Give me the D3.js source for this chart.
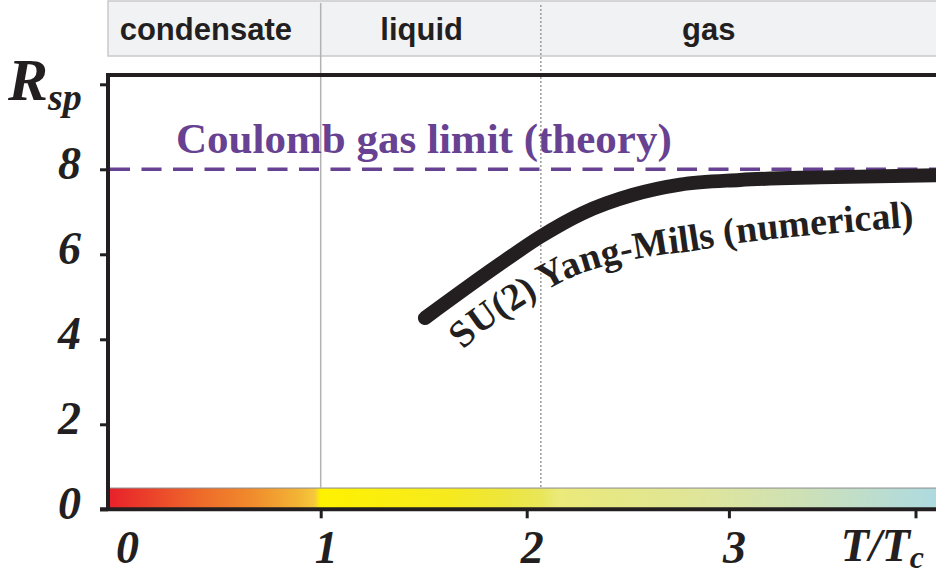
<!DOCTYPE html>
<html>
<head>
<meta charset="utf-8">
<script src="https://cdn.jsdelivr.net/npm/d3@7"></script>
<style>
html, body { margin: 0; padding: 0; background: #fff; overflow: hidden; }
svg { display: block; }
</style>
</head>
<body>
<svg id="rsp_graph"></svg>
<script>
// --- data ---
const phases = ["condensate", "liquid", "gas"];
const phaseLabelT = [0.46, 1.49, 2.9];
const phaseBounds = [1, 2.07];
const yTicks = [0, 2, 4, 6, 8, 10];
const yTickLabels = ["0", "2", "4", "6", "8", ""];
const xTicks = [0, 1, 2, 3, 4];
const xTickLabels = ["0", "1", "2", "3", ""];
const coulombLimit = 8;
const curveT = [1.506, 1.87, 2.066, 2.278, 2.526, 2.758, 3.059, 3.488, 4.11];
const curveR = [4.50, 5.77, 6.41, 6.97, 7.40, 7.64, 7.75, 7.81, 7.86];
const labelPathT = [1.66, 1.74, 1.99, 2.249, 2.57, 2.82, 3.065, 3.40, 4.05];
const labelPathR = [3.55, 3.98, 4.83, 5.51, 5.91, 6.08, 6.27, 6.43, 6.67];
const barStopT = [0, 0.43, 0.67, 0.9, 0.97, 1.0, 1.63, 1.87, 2.07, 2.16, 2.36, 2.86, 3.35, 3.9, 4.2];
const barStopColor = ["#e8202a", "#ee6a2a", "#f08a2c", "#f3b535", "#f5c83c", "#fff200", "#f6ea1f",
                      "#eee63a", "#e9e65a", "#ebea7a", "#e7e882", "#dfe59a", "#cfe1b4", "#b7dcd5", "#aad9e4"];

const svg_size = {width: 936, height: 577};
const ink = "#231f20";
const purple = "#674192";
const serifBI = "'Liberation Serif', 'Times New Roman', serif";

const svg = d3.select("#rsp_graph")
    .attr("width", svg_size.width)
    .attr("height", svg_size.height);

// hand-drawn axis in the original: unit steps are slightly uneven
const x = d3.scaleLinear().domain(xTicks).range([108, 320.7, 526.7, 728.9, 915.5]);
const y = d3.scaleLinear().domain([0, 10]).range([509.3, 84.3]);
const xRight = svg_size.width;
const yTop = 75;

// phase header band
svg.append("rect")
    .attr("x", x(0)).attr("y", 1)
    .attr("width", xRight - x(0) + 10).attr("height", 55)
    .attr("fill", "#f1f2f4")
    .attr("stroke", "#c9c9cb")
    .attr("stroke-width", 1.5);

svg.selectAll(".phase")
    .data(phases)
    .enter()
    .append("text")
    .attr("x", (d, i) => x(phaseLabelT[i]))
    .attr("y", 40)
    .attr("text-anchor", "middle")
    .attr("font-family", "'Liberation Sans', Arial, sans-serif")
    .attr("font-weight", "bold")
    .attr("font-size", 31)
    .attr("fill", ink)
    .text(d => d);

// colour bar along the bottom
const grad = svg.append("defs").append("linearGradient")
    .attr("id", "phaseGrad")
    .attr("gradientUnits", "userSpaceOnUse")
    .attr("x1", x(0)).attr("x2", x(4.2)).attr("y1", 0).attr("y2", 0);
grad.selectAll("stop")
    .data(barStopT)
    .enter()
    .append("stop")
    .attr("offset", d => (x(d) - x(0)) / (x(4.2) - x(0)))
    .attr("stop-color", (d, i) => barStopColor[i]);

svg.append("rect")
    .attr("x", x(0))
    .attr("y", y(0.5))
    .attr("width", xRight - x(0))
    .attr("height", y(0) - y(0.5))
    .attr("fill", "url(#phaseGrad)");
svg.append("line")
    .attr("x1", x(0)).attr("x2", xRight)
    .attr("y1", y(0.5)).attr("y2", y(0.5))
    .attr("stroke", "#8a8a8a")
    .attr("stroke-width", 1);

// phase boundaries
svg.append("line")
    .attr("x1", x(phaseBounds[0])).attr("x2", x(phaseBounds[0]))
    .attr("y1", 3).attr("y2", y(0.5))
    .attr("stroke", "#b3b3b3")
    .attr("stroke-width", 1.5);
svg.append("line")
    .attr("x1", x(phaseBounds[1])).attr("x2", x(phaseBounds[1]))
    .attr("y1", 5).attr("y2", y(0.5))
    .attr("stroke", "#9c9c9c")
    .attr("stroke-width", 1.5)
    .attr("stroke-dasharray", "2,2");

// Coulomb gas limit
svg.append("line")
    .attr("x1", x(0) + 2).attr("x2", xRight)
    .attr("y1", y(coulombLimit)).attr("y2", y(coulombLimit))
    .attr("stroke", purple)
    .attr("stroke-width", 3.5)
    .attr("stroke-dasharray", "20,11.5");
svg.append("text")
    .attr("x", x(0.32))
    .attr("y", y(coulombLimit) - 16)
    .attr("font-family", serifBI)
    .attr("font-weight", "bold")
    .attr("font-size", 43)
    .attr("fill", purple)
    .text("Coulomb gas limit (theory)");

// numerical curve
const curveData = curveT.map((t, i) => ({t: t, r: curveR[i]}));
const line = d3.line()
    .x(d => x(d.t))
    .y(d => y(d.r))
    .curve(d3.curveMonotoneX);
svg.append("path")
    .datum(curveData)
    .attr("d", line)
    .attr("fill", "none")
    .attr("stroke", ink)
    .attr("stroke-width", 14)
    .attr("stroke-linecap", "round");

const labelData = labelPathT.map((t, i) => ({t: t, r: labelPathR[i]}));
svg.select("defs").append("path")
    .attr("id", "labelPath")
    .attr("d", d3.line().x(d => x(d.t)).y(d => y(d.r)).curve(d3.curveCatmullRom)(labelData));
svg.append("text")
    .attr("font-family", serifBI)
    .attr("font-weight", "bold")
    .attr("font-size", 38)
    .attr("fill", ink)
    .append("textPath")
    .attr("href", "#labelPath")
    .attr("startOffset", "50%")
    .attr("text-anchor", "middle")
    .text("SU(2) Yang-Mills (numerical)");

// axes
const yAxis = d3.axisLeft(y).tickValues(yTicks).tickSize(8).tickPadding(19)
    .tickFormat((d, i) => yTickLabels[i]);
const xAxis = d3.axisBottom(x).tickValues(xTicks).tickSize(9).tickPadding(12)
    .tickFormat((d, i) => xTickLabels[i]);

const gy = svg.append("g").attr("transform", `translate(${x(0)},0)`).call(yAxis);
const gx = svg.append("g").attr("transform", `translate(0,${y(0)})`).call(xAxis);
[gx, gy].forEach(g => {
    g.select(".domain").remove();
    g.selectAll(".tick line").attr("stroke", ink).attr("stroke-width", 3);
    g.selectAll(".tick text")
        .attr("fill", ink)
        .attr("font-family", serifBI)
        .attr("font-weight", "bold")
        .attr("font-style", "italic")
        .attr("font-size", 46);
});
gy.selectAll(".tick text").attr("dy", "0.19em");
gx.selectAll(".tick text").attr("dx", d => d === 0 ? 19 : 5);
gx.selectAll(".tick").filter(d => d === 0).select("line").remove();

// frame: top, left and bottom lines
svg.append("path")
    .attr("d", `M${xRight},${yTop}H${x(0)}V${y(0)}`)
    .attr("fill", "none")
    .attr("stroke", ink)
    .attr("stroke-width", 4);
svg.append("line")
    .attr("x1", x(0) - 8).attr("x2", xRight)
    .attr("y1", y(0)).attr("y2", y(0))
    .attr("stroke", ink)
    .attr("stroke-width", 4);

// axis titles
const rLabel = svg.append("text")
    .attr("x", 8).attr("y", 100)
    .attr("font-family", serifBI)
    .attr("font-weight", "bold")
    .attr("font-style", "italic")
    .attr("fill", ink);
rLabel.append("tspan").attr("font-size", 60).text("R");
rLabel.append("tspan").attr("font-size", 38).attr("dy", 10).text("sp");

const tLabel = svg.append("text")
    .attr("x", 924).attr("y", 561)
    .attr("text-anchor", "end")
    .attr("font-family", serifBI)
    .attr("font-weight", "bold")
    .attr("font-style", "italic")
    .attr("fill", ink);
tLabel.append("tspan").attr("font-size", 46).text("T/T");
tLabel.append("tspan").attr("font-size", 32).attr("dy", 7).text("c");
</script>
</body>
</html>
